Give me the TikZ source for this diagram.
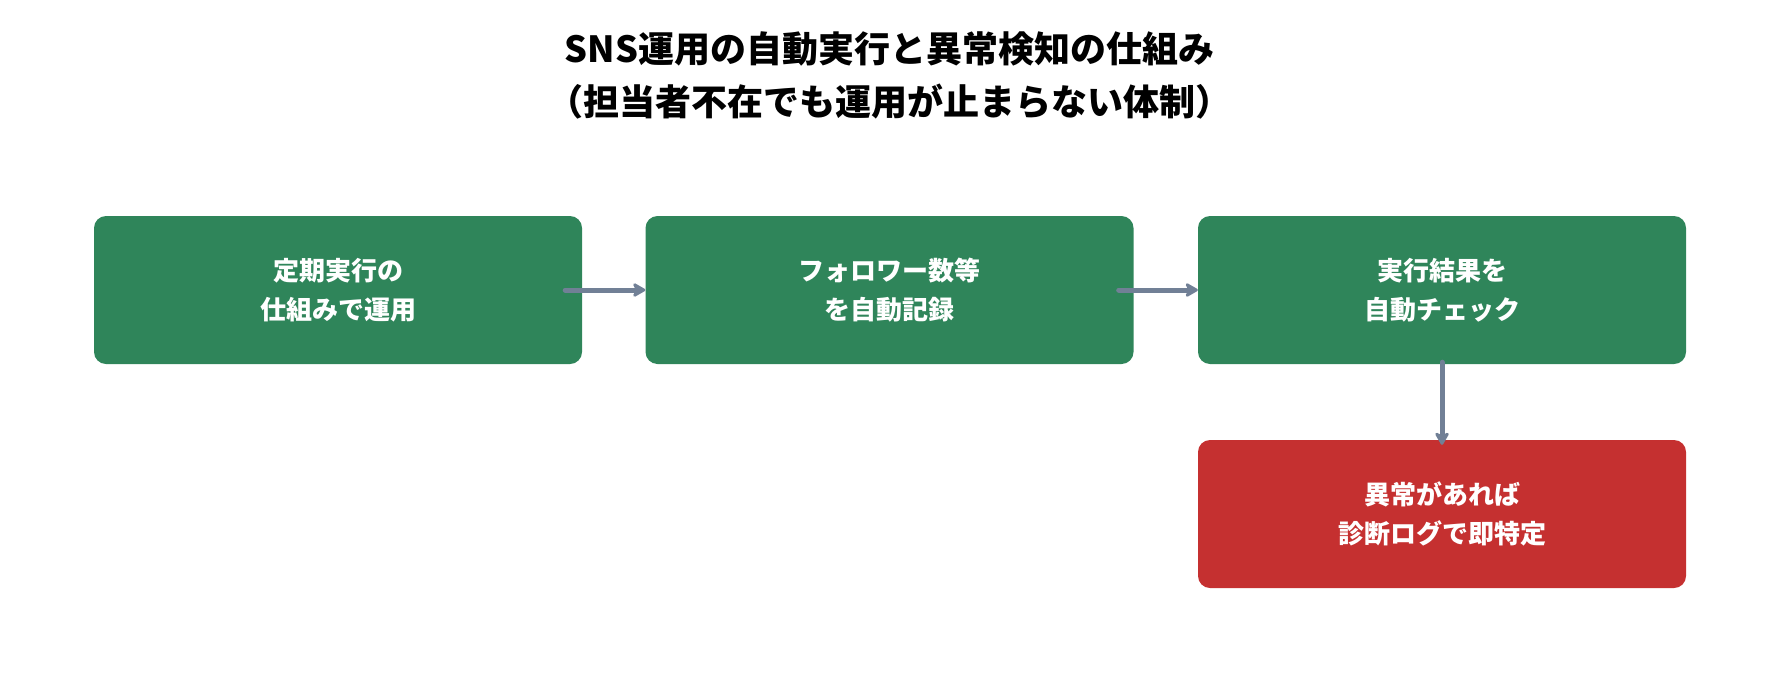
\documentclass[tikz,border=0pt]{standalone}
\usepackage{fontspec}
\setmainfont{Noto Sans CJK JP}
\usetikzlibrary{arrows.meta}
\definecolor{boxgreen}{HTML}{2F855A}
\definecolor{boxred}{HTML}{C53030}
\definecolor{arrowgray}{HTML}{718096}
\tikzset{
  stepbox/.style={rectangle, rounded corners=12pt, minimum width=488pt, minimum height=148pt, inner sep=0pt, text=white, align=center, font=\bfseries\fontsize{26}{39}\selectfont},
  okbox/.style={stepbox, fill=boxgreen},
  alertbox/.style={stepbox, fill=boxred},
  flow/.style={draw=arrowgray, line width=5pt, line cap=round, -{Stealth[length=15pt,width=17pt,inset=4pt,round]}},
}
\begin{document}
\begin{tikzpicture}[x=1pt,y=-1pt]
\useasboundingbox (0,0) rectangle (1779,699);
\node[align=center, font=\bfseries\fontsize{36}{53}\selectfont] (title) at (889.5,75) {SNS運用の自動実行と異常検知の仕組み\\（担当者不在でも運用が止まらない体制）};
\node[okbox] (b1) at (338,290) {定期実行の\\仕組みで運用};
\node[okbox] (b2) at (889.5,290) {フォロワー数等\\を自動記録};
\node[okbox] (b3) at (1442,290) {実行結果を\\自動チェック};
\node[alertbox] (r) at (1442,514) {異常があれば\\診断ログで即特定};
\draw[flow] ([xshift=-17pt]b1.east) -- (b2.west);
\draw[flow] ([xshift=-15pt]b2.east) -- (b3.west);
\draw[flow] ([yshift=2pt]b3.south) -- ([yshift=-5pt]r.north);
\end{tikzpicture}
\end{document}
